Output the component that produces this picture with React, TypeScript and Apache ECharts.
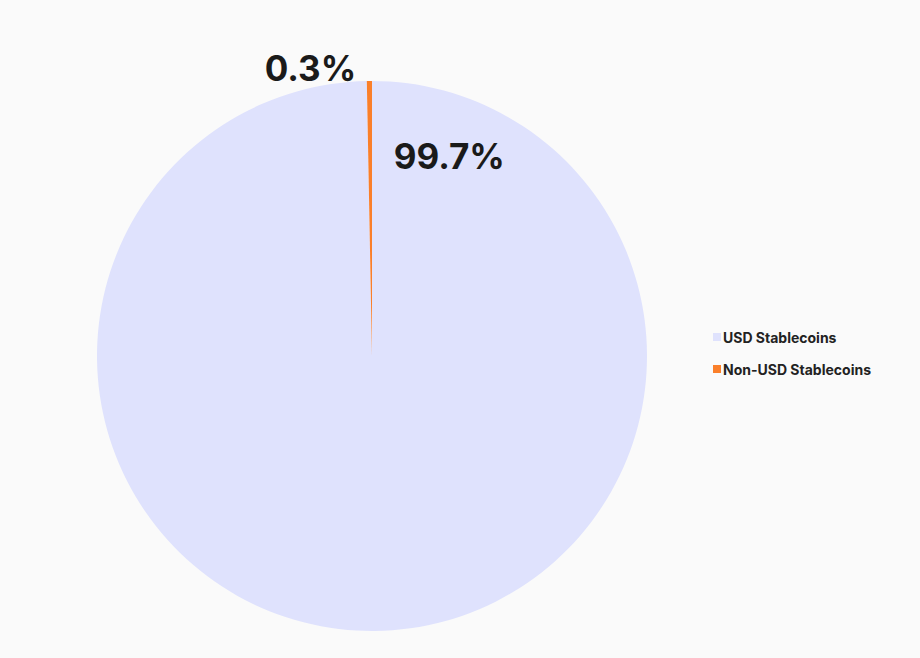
import React, { useEffect, useRef } from "react";
import * as echarts from "echarts";

const categories = ["USD Stablecoins", "Non-USD Stablecoins"];
const shares = [99.7, 0.3];
const colors = ["#dfe2fd", "#fa7f2a"];

// label offsets relative to the default label anchor for each slice
const labelOffsets: [number, number][] = [
  [76, -340],
  [22, 2],
];

export default function App() {
  const ref = useRef<HTMLDivElement>(null);

  useEffect(() => {
    if (!ref.current) return;
    document.body.style.margin = "0";
    const chart = echarts.init(ref.current, undefined, { renderer: "svg" });

    chart.setOption({
      animation: false,
      backgroundColor: "#fafafa",
      textStyle: { fontFamily: "Inter" },
      legend: {
        orient: "vertical",
        left: 708,
        top: 325,
        itemWidth: 8,
        itemHeight: 8,
        itemGap: 18,
        icon: "rect",
        data: categories,
        textStyle: {
          color: "#222222",
          fontSize: 14,
          fontWeight: "bold",
          fontFamily: "Inter",
          padding: [0, 0, 0, -3],
        },
      },
      series: [
        {
          type: "pie",
          center: [372, 356],
          radius: [0, 275],
          startAngle: 90,
          clockwise: true,
          avoidLabelOverlap: false,
          labelLine: { show: false },
          data: categories.map((name, i) => ({
            name,
            value: shares[i],
            itemStyle: { color: colors[i] },
            label: {
              show: true,
              position: i === 0 ? "inside" : "outside",
              offset: labelOffsets[i],
              formatter: "{d}%",
              color: "#1a1a1a",
              fontSize: 35,
              fontWeight: "bold",
              fontFamily: "Inter",
            },
          })),
        },
      ],
    });

    return () => chart.dispose();
  }, []);

  return <div ref={ref} style={{ width: 920, height: 658 }} />;
}
